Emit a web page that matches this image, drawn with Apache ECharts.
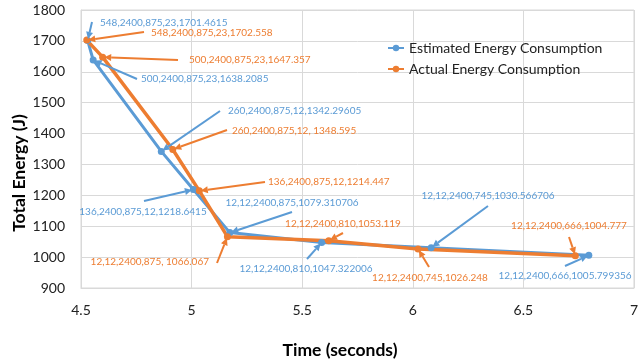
<!DOCTYPE html>
<html><head><meta charset="utf-8">
<script src="https://cdn.jsdelivr.net/npm/echarts@6/dist/echarts.min.js"></script>
<style>html,body{margin:0;padding:0;background:#fff}#c{width:641px;height:364px}</style>
</head><body><div id="c"></div>
<script>
// ---- data ----
const seriesNames = ['Estimated Energy Consumption', 'Actual Energy Consumption'];
const estTime = [4.53, 4.555, 4.863, 5.008, 5.173, 5.588, 6.083, 6.796];
const estEnergy = [1701.4615, 1638.2085, 1342.29605, 1218.6415, 1079.310706, 1047.322006, 1030.566706, 1005.799356];
const estLabels = ['548,2400,875,23,1701.4615', '500,2400,875,23,1638.2085', '260,2400,875,12,1342.29605',
  '136,2400,875,12,1218.6415', '12,12,2400,875,1079.310706', '12,12,2400,810,1047.322006',
  '12,12,2400,745,1030.566706', '12,12,2400,666,1005.799356'];
const actTime = [4.526, 4.598, 4.915, 5.035, 5.162, 5.62, 6.024, 6.735];
const actEnergy = [1702.558, 1647.357, 1348.595, 1214.447, 1066.067, 1053.119, 1026.248, 1004.777];
const actLabels = ['548,2400,875,23,1702.558', '500,2400,875,23,1647.357', '260,2400,875,12, 1348.595',
  '136,2400,875,12,1214.447', '12,12,2400,875, 1066.067', '12,12,2400,810,1053.119',
  '12,12,2400,745,1026.248', '12,12,2400,666,1004.777'];
const xTitle = 'Time (seconds)';
const yTitle = 'Total Energy (J)';

// ---- annotation layout (pixels): arrow tail, text anchor, align ----
const estLayout = [
  {tail:[92,22], text:[100,23], align:'left'},
  {tail:[137,79], text:[141,79], align:'left'},
  {tail:[220,111], text:[228,111], align:'left'},
  {tail:[144,201], text:[143,212], align:'center'},
  {tail:[292,212], text:[292,203], align:'center'},
  {tail:[307,259], text:[306,269], align:'center'},
  {tail:[488,206], text:[488,196], align:'center'},
  {tail:[565,266], text:[565,276], align:'center'}
];
const actLayout = [
  {tail:[144,32], text:[151,33], align:'left'},
  {tail:[178,60], text:[189,60], align:'left'},
  {tail:[227,130], text:[232,131], align:'left'},
  {tail:[265,182], text:[268,182], align:'left'},
  {tail:[217,263], text:[209,262], align:'right'},
  {tail:[343,233], text:[343,224], align:'center'},
  {tail:[429,267], text:[430,278], align:'center'},
  {tail:[569,237], text:[569,226], align:'center'}
];

const BLUE = '#5B9BD5', ORANGE = '#ED7D31';
const FONT = 'Lato';
const chart = echarts.init(document.getElementById('c'), null, {renderer:'canvas'});

function pairs(xs, ys){ return xs.map((x,i)=>[x, ys[i]]); }

chart.setOption({
  animation:false,
  grid:{left:81, right:4, top:10, bottom:76, show:true, borderColor:'#D9D9D9', borderWidth:1},
  legend:{
    orient:'vertical', left:382, top:36, itemGap:7, itemWidth:16, itemHeight:8,
    textStyle:{fontFamily:FONT, fontSize:14, color:'#222'},
    data:seriesNames
  },
  xAxis:{
    type:'value', min:4.5, max:7, interval:0.5,
    axisLine:{show:true, lineStyle:{color:'#D9D9D9'}}, axisTick:{show:false},
    axisLabel:{fontFamily:FONT, fontSize:14, color:'#222', margin:15, formatter:v=>String(v)},
    splitLine:{show:true, lineStyle:{color:'#D9D9D9'}}
  },
  yAxis:{
    type:'value', min:900, max:1800, interval:100,
    axisLine:{show:true, lineStyle:{color:'#D9D9D9'}}, axisTick:{show:false},
    axisLabel:{fontFamily:FONT, fontSize:14, color:'#222', margin:16, formatter:v=>String(v)},
    splitLine:{show:true, lineStyle:{color:'#D9D9D9'}}
  },
  series:[
    {name:seriesNames[0], type:'line', data:pairs(estTime, estEnergy), symbol:'circle', symbolSize:7,
     lineStyle:{color:BLUE, width:3}, itemStyle:{color:BLUE}},
    {name:seriesNames[1], type:'line', data:pairs(actTime, actEnergy), symbol:'circle', symbolSize:7,
     lineStyle:{color:ORANGE, width:3.5}, itemStyle:{color:ORANGE}}
  ]
});

function annotations(xs, ys, labels, layout, color){
  const out = [];
  xs.forEach((x,i)=>{
    const p = chart.convertToPixel({gridIndex:0}, [x, ys[i]]);
    const L = layout[i];
    const t = L.tail;
    const dx = p[0]-t[0], dy = p[1]-t[1];
    const len = Math.sqrt(dx*dx+dy*dy);
    const ux = dx/len, uy = dy/len;
    const tip = [p[0]-ux*1.5, p[1]-uy*1.5];
    const ah = 7, aw = 3.5;
    const base = [tip[0]-ux*ah, tip[1]-uy*ah];
    out.push({type:'line', z:100, shape:{x1:t[0], y1:t[1], x2:base[0], y2:base[1]},
      style:{stroke:color, lineWidth:2}});
    out.push({type:'polygon', z:100, shape:{points:[tip, [base[0]-uy*aw, base[1]+ux*aw], [base[0]+uy*aw, base[1]-ux*aw]]},
      style:{fill:color}});
    out.push({type:'text', z:101, x:L.text[0], y:L.text[1],
      style:{text:labels[i], fill:color, fontFamily:FONT, fontSize:10, align:L.align, verticalAlign:'middle'}});
  });
  return out;
}

const titles = [
  {type:'text', x:340, y:350, style:{text:xTitle, fill:'#000', fontFamily:FONT, fontWeight:'bold', fontSize:17.5, align:'center', verticalAlign:'middle'}},
  {type:'text', x:19, y:173, rotation:Math.PI/2, style:{text:yTitle, fill:'#000', fontFamily:FONT, fontWeight:'bold', fontSize:17.5, align:'center', verticalAlign:'middle'}}
];

chart.setOption({graphic:[].concat(
  titles,
  annotations(estTime, estEnergy, estLabels, estLayout, BLUE),
  annotations(actTime, actEnergy, actLabels, actLayout, ORANGE)
)});
</script></body></html>
